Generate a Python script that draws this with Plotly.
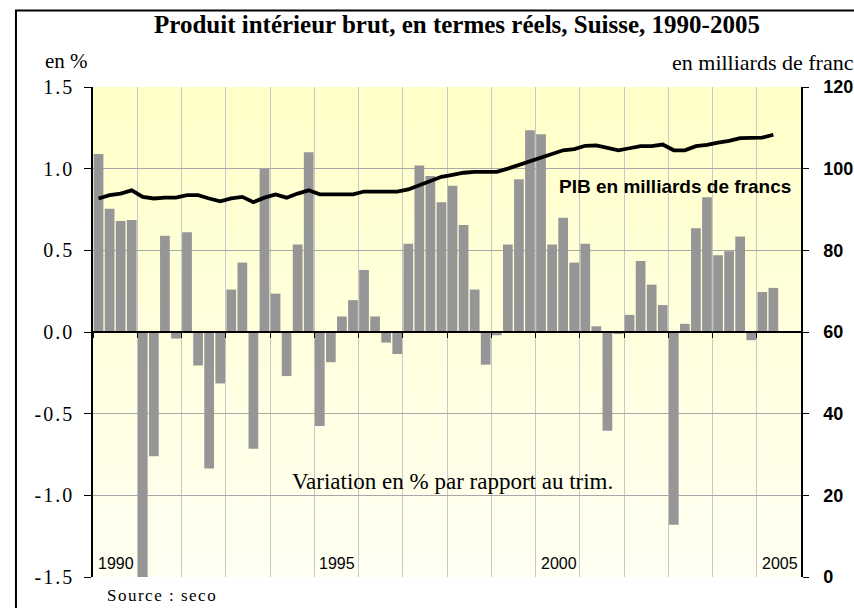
import plotly.graph_objects as go

# ---- data ----
years = list(range(1990, 2006))
quarters = [f"{y} T{q}" for y in years for q in (1, 2, 3, 4)][:62]

growth_pct = [1.09, 0.755, 0.68, 0.685, -1.52, -0.76, 0.59, -0.04, 0.61, -0.205,
              -0.835, -0.315, 0.26, 0.425, -0.715, 1.0, 0.235, -0.27, 0.535, 1.10,
              -0.575, -0.185, 0.095, 0.195, 0.38, 0.095, -0.065, -0.135, 0.54, 1.02,
              0.955, 0.795, 0.895, 0.655, 0.26, -0.20, -0.02, 0.535, 0.935, 1.235,
              1.21, 0.535, 0.70, 0.425, 0.54, 0.035, -0.605, -0.01, 0.105, 0.435,
              0.29, 0.165, -1.18, 0.05, 0.635, 0.825, 0.47, 0.495, 0.585, -0.05,
              0.245, 0.27]

gdp_bn = [92.7, 93.5, 93.9, 94.7, 93.1, 92.7, 92.9, 92.9, 93.5, 93.5,
          92.7, 92.0, 92.7, 93.1, 91.8, 92.9, 93.7, 92.9, 93.9, 94.7,
          93.7, 93.7, 93.7, 93.7, 94.4, 94.4, 94.4, 94.4, 94.9, 95.9,
          97.1, 98.0, 98.5, 99.0, 99.2, 99.2, 99.2, 100.0, 100.9, 101.8,
          102.9, 103.7, 104.5, 104.8, 105.6, 105.7, 105.0, 104.5, 105.0, 105.5,
          105.5, 105.9, 104.5, 104.5, 105.5, 105.8, 106.4, 106.8, 107.5, 107.6,
          107.6, 108.3]

year_labels = ["1990", "1995", "2000", "2005"]
left_ticks = [-1.5, -1.0, -0.5, 0.0, 0.5, 1.0, 1.5]
right_ticks = [0, 20, 40, 60, 80, 100, 120]

xpos = list(range(len(quarters)))

SERIF = "Liberation Serif, Times New Roman, serif"
SANS = "Liberation Sans, Arial, sans-serif"

fig = go.Figure()
fig.add_trace(go.Bar(x=xpos, y=growth_pct, marker=dict(color="#969696", line=dict(width=0)),
                     customdata=quarters, name="Variation", yaxis="y"))
fig.add_trace(go.Scatter(x=xpos, y=gdp_bn, mode="lines", line=dict(color="black", width=3.8),
                         customdata=quarters, name="PIB", yaxis="y2"))

# background gradient (styling)
shapes = []
n = 40
top = (255, 255, 200)
bot = (255, 255, 242)
for i in range(n):
    t = i / (n - 1)
    c = tuple(round(top[k] + (bot[k] - top[k]) * t) for k in range(3))
    shapes.append(dict(type="rect", xref="paper", yref="paper", x0=0, x1=1,
                       y1=1 - i / n, y0=1 - (i + 1) / n, layer="below",
                       line=dict(width=0), fillcolor=f"rgb{c}"))
# outer frame
shapes.append(dict(type="rect", xref="paper", yref="paper", x0=-0.1088, x1=1.2,
                   y0=-0.2, y1=1.156, line=dict(color="black", width=2), layer="above"))

def spaced(s, px):
    return f'<span style="letter-spacing:{px}px">{s}</span>'

annotations = [
    dict(text="<b>Produit intérieur brut, en termes réels, Suisse, 1990-2005</b>",
         xref="paper", yref="paper", x=0.514, y=1.127, xanchor="center", yanchor="middle",
         showarrow=False, font=dict(family=SERIF, size=25, color="black")),
    dict(text="en %", xref="paper", yref="paper", x=-0.071, y=1.053, xanchor="left",
         yanchor="middle", showarrow=False, font=dict(family=SERIF, size=21, color="black")),
    dict(text="en milliards de francs", xref="paper", yref="paper", x=0.815, y=1.051,
         xanchor="left", yanchor="middle", showarrow=False,
         font=dict(family=SERIF, size=22, color="black")),
    dict(text="<b>PIB en milliards de francs</b>", xref="paper", yref="paper", x=0.656,
         y=0.796, xanchor="left", yanchor="middle", showarrow=False,
         font=dict(family=SANS, size=19, color="black")),
    dict(text="Variation en % par rapport au trim.", xref="paper", yref="paper", x=0.508,
         y=0.1945, xanchor="center", yanchor="middle", showarrow=False,
         font=dict(family=SERIF, size=23, color="black")),
    dict(text=spaced("Source : seco", 1.5), xref="paper", yref="paper", x=0.017, y=-0.037,
         xanchor="left", yanchor="middle", showarrow=False,
         font=dict(family=SERIF, size=17, color="black")),
]
for lbl in year_labels:
    idx = quarters.index(f"{lbl} T1")
    annotations.append(dict(text=lbl, x=idx + 1.6, y=-1.416, xref="x", yref="y",
                            xanchor="center", yanchor="middle", showarrow=False,
                            font=dict(family=SANS, size=16, color="black")))

fig.update_layout(
    width=854, height=608,
    margin=dict(l=93, r=53, t=87, b=31, autoexpand=False),
    paper_bgcolor="white", plot_bgcolor="#FFFFE0",
    showlegend=False, bargap=0.12,
    shapes=shapes, annotations=annotations,
    xaxis=dict(range=[-0.5, 63.5], tickvals=[v - 0.5 for v in range(0, 65, 4)],
               showticklabels=False, ticks="outside", ticklen=5, tickcolor="black",
               showgrid=True, gridcolor="#C8C8C8", gridwidth=1,
               anchor="free", position=0.5, showline=True, linecolor="black",
               linewidth=1.5, zeroline=False, automargin=False),
    yaxis=dict(range=[-1.5, 1.5], tickvals=left_ticks,
               ticktext=[spaced(f"{v:.1f}", 2) for v in left_ticks],
               ticks="outside", ticklen=7, tickcolor="black", showline=True,
               linecolor="black", linewidth=1.5, showgrid=True, gridcolor="#A8A8A8",
               zeroline=False, ticklabelstandoff=6, automargin=False,
               tickfont=dict(family=SERIF, size=20, color="black")),
    yaxis2=dict(range=[0, 120], tickvals=right_ticks, overlaying="y", side="right",
                ticks="outside", ticklen=6, tickcolor="black", showline=True,
                linecolor="black", linewidth=1.5, showgrid=False, zeroline=False,
                ticklabelstandoff=11, automargin=False,
                tickfont=dict(family=SANS, size=18, color="black", weight="bold")),
)

fig.write_html("out.html", config={"displayModeBar": False},
               post_script="document.body.style.margin='0';")
